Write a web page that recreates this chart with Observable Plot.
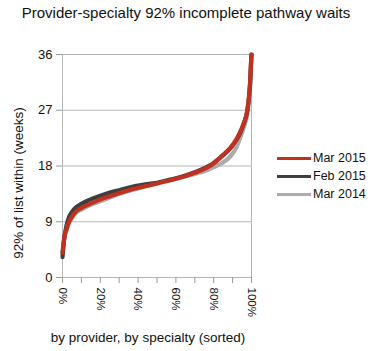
<!DOCTYPE html>
<html>
<head>
<meta charset="utf-8">
<script src="https://cdn.jsdelivr.net/npm/d3@7"></script>
<script src="https://cdn.jsdelivr.net/npm/@observablehq/plot@0.6"></script>
<style>
  html, body { margin: 0; padding: 0; background: #fff; }
  body { font-family: "Liberation Sans", Arial, sans-serif; }
  #wrap { position: relative; width: 372px; height: 351px; overflow: hidden; }
  #title { position: absolute; left: 0; top: 4px; width: 372px; text-align: center; font-size: 15px; color: #111; }
  #chart { position: absolute; left: 0; top: 26px; }
  #ylab { position: absolute; left: 18px; top: 183px; transform: translate(-50%, -50%) rotate(-90deg); white-space: nowrap; font-size: 13.5px; color: #111; }
  #xlab { position: absolute; left: 148px; top: 337px; transform: translate(-50%, -50%); white-space: nowrap; font-size: 13.5px; color: #111; }
  #legend { position: absolute; left: 277px; top: 149px; font-size: 12.5px; color: #111; }
  .li { display: flex; align-items: center; height: 18px; }
  .sw { width: 34px; height: 3px; margin-right: 2px; }
</style>
</head>
<body>
<div id="wrap">
  <div id="title">Provider-specialty 92% incomplete pathway waits</div>
  <div id="chart"></div>
  <div id="ylab">92% of list within (weeks)</div>
  <div id="xlab">by provider, by specialty (sorted)</div>
  <div id="legend"></div>
</div>
<script>
// percentile position (%) along the sorted list of provider-specialties
const positions = [0, 1, 2, 3.5, 5, 7, 10, 14, 20, 25, 30, 39, 45, 50, 57, 62, 70, 78, 80, 84, 89, 92, 94, 96, 97.8, 99.2, 99.9, 100];
const seriesNames = ["Mar 2014", "Feb 2015", "Mar 2015"];
const mar2014 = [3.8, 6.4, 7.5, 8.8, 9.6, 10.4, 11.0, 11.6, 12.3, 12.9, 13.5, 14.3, 14.8, 15.2, 15.7, 16.1, 16.7, 17.5, 17.8, 18.4, 19.6, 21.0, 22.5, 24.3, 26.5, 30.5, 35.0, 36.0];
const feb2015 = [3.3, 6.5, 8.2, 9.8, 10.6, 11.3, 11.9, 12.5, 13.2, 13.7, 14.1, 14.8, 15.1, 15.3, 15.8, 16.2, 17.0, 18.1, 18.5, 19.5, 20.9, 22.2, 23.3, 24.9, 27.0, 31.0, 35.5, 36.0];
const mar2015 = [4.0, 6.6, 7.7, 9.0, 9.8, 10.6, 11.2, 11.8, 12.6, 13.1, 13.6, 14.4, 14.8, 15.2, 15.7, 16.1, 16.9, 18.0, 18.4, 19.5, 21.0, 22.3, 23.5, 25.0, 27.0, 31.3, 35.6, 36.0];
const yTicks = [0, 9, 18, 27, 36];
const xTicks = [0, 20, 40, 60, 80, 100];
const xMinorTicks = [10, 30, 50, 70, 90];
const colors = {"Mar 2015": "#c1311f", "Feb 2015": "#3f3f3f", "Mar 2014": "#acacac"};
const legendOrder = ["Mar 2015", "Feb 2015", "Mar 2014"];

const valuesBySeries = {"Mar 2014": mar2014, "Feb 2015": feb2015, "Mar 2015": mar2015};
const data = seriesNames.flatMap(s => positions.map((p, i) => ({series: s, x: p, y: valuesBySeries[s][i]})));

const chart = Plot.plot({
  width: 372,
  height: 325,
  marginLeft: 62,
  marginRight: 121,
  marginTop: 28,
  marginBottom: 74,
  style: {fontFamily: "Liberation Sans, Arial, sans-serif", fontSize: "12.5px", background: "#fff"},
  x: {domain: [0, 100]},
  y: {domain: [0, 36]},
  marks: [
    Plot.gridY(yTicks, {stroke: "#b5b5b5", strokeOpacity: 1, strokeWidth: 1}),
    Plot.ruleX([0, 100], {stroke: "#b5b5b5", strokeWidth: 1}),
    Plot.axisY({ticks: yTicks, tickSize: 6, tickPadding: 4, label: null, stroke: "#999", fill: "#111", fontSize: 13}),
    Plot.axisX({ticks: xTicks, tickSize: 6, tickPadding: 4, tickRotate: 90, tickFormat: d => d + "%", label: null, stroke: "#999", fill: "#111", fontSize: 11.5}),
    Plot.axisX({ticks: xMinorTicks, tickSize: 6, tickFormat: () => "", label: null, stroke: "#999"}),
    Plot.line(data, {x: "x", y: "y", z: "series", stroke: d => colors[d.series], strokeWidth: 4.2, curve: "monotone-x", strokeLinejoin: "round", strokeLinecap: "round"})
  ]
});
document.getElementById("chart").appendChild(chart);

const leg = document.getElementById("legend");
for (const s of legendOrder) {
  const row = document.createElement("div");
  row.className = "li";
  const sw = document.createElement("div");
  sw.className = "sw";
  sw.style.background = colors[s];
  const t = document.createElement("span");
  t.textContent = s;
  row.appendChild(sw);
  row.appendChild(t);
  leg.appendChild(row);
}
</script>
</body>
</html>
